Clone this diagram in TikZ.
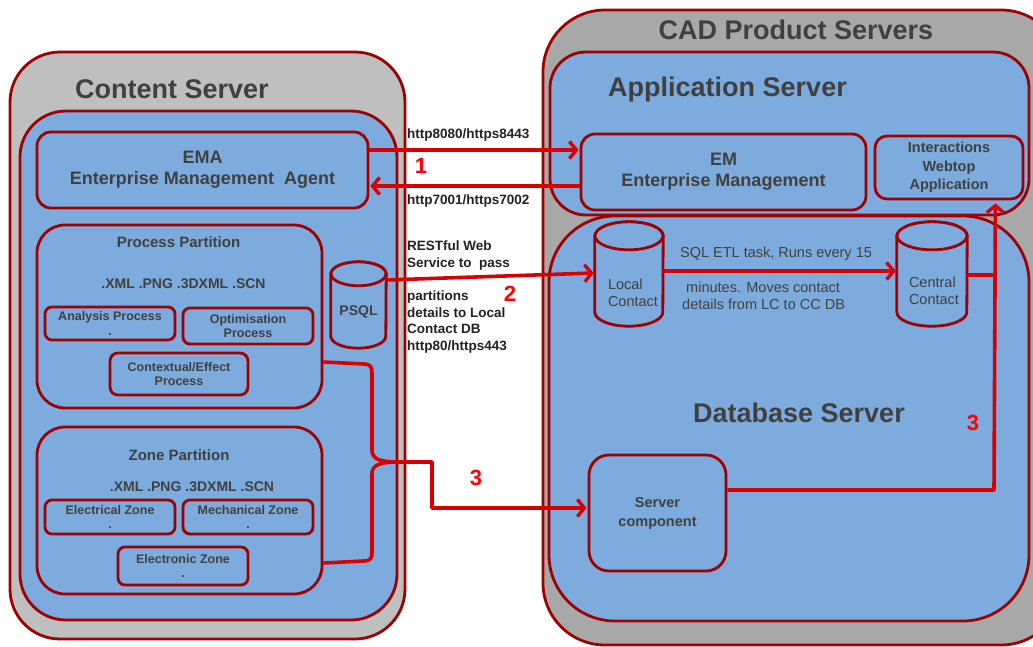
\documentclass[tikz,border=0pt]{standalone}
\usepackage{fontspec}
\setmainfont{Liberation Sans}
\usetikzlibrary{arrows.meta,calc}
\definecolor{bfill}{RGB}{126,171,222}
\definecolor{gfillL}{RGB}{191,191,191}
\definecolor{gfillR}{RGB}{168,168,168}
\definecolor{bord}{RGB}{158,0,0}
\definecolor{arrc}{RGB}{214,0,0}
\definecolor{txt}{RGB}{64,64,64}
\definecolor{txtd}{RGB}{34,34,34}
\definecolor{numc}{RGB}{255,0,0}
\begin{document}
\begin{tikzpicture}[x=1pt,y=-1pt,
  outer/.style={draw=bord, line width=2.8pt, fill=gfillL, inner sep=0pt},
  region/.style={draw=bord, line width=2.8pt, fill=bfill, inner sep=0pt},
  box/.style={draw=bord, line width=2.8pt, fill=bfill, inner sep=0pt, align=center, text=txt},
  cyl/.style={draw=bord, line width=2.8pt, fill=bfill},
  ttl/.style={text=txt, font=\bfseries\fontsize{27}{32}\selectfont, inner sep=0pt},
  bigt/.style={font=\bfseries\fontsize{18}{21}\selectfont},
  midt/.style={text=txt, font=\bfseries\fontsize{15}{18}\selectfont, inner sep=0pt},
  smallt/.style={font=\bfseries\fontsize{12.5}{14.5}\selectfont},
  colt/.style={text=txtd, font=\bfseries\fontsize{13.5}{16.5}\selectfont, inner sep=0pt, anchor=west, align=left},
  numt/.style={text=numc, font=\bfseries\fontsize{22}{24}\selectfont, inner sep=0pt},
  conn/.style={draw=arrc, line width=3.6pt, line join=round},
  arrowc/.style={conn, -{Straight Barb[length=7pt,width=17pt,line width=3.4pt]}}
]
\clip (0,0) rectangle (1033,646);
\fill[white] (0,0) rectangle (1033,646);

% ---------------- Content Server ----------------
\node[outer, minimum width=395pt, minimum height=587pt, rounded corners=50pt] (cs) at (207.5,345.5) {};
\node[region, minimum width=377pt, minimum height=509pt, rounded corners=46pt] (csin) at (208.5,365.5) {};
\node[ttl] (cst) at (172,89) {Content Server};

\node[box, bigt, minimum width=331pt, minimum height=76pt, rounded corners=14pt] (ema) at (202.5,170)
  {EMA\\Enterprise Management\ \ Agent};

\node[region, minimum width=285pt, minimum height=183pt, rounded corners=28pt] (pp) at (179.5,316.5) {};
\node[midt] (ppt) at (178.5,242) {Process Partition};
\node[midt, font=\bfseries\fontsize{14}{16}\selectfont] (ppx) at (183.5,284) {.XML .PNG .3DXML .SCN};
\node[box, smallt, minimum width=130pt, minimum height=33pt, rounded corners=7pt] (ap) at (110,323.5) {Analysis Process\\.};
\node[box, smallt, minimum width=130pt, minimum height=36pt, rounded corners=7pt] (op) at (248,326) {Optimisation\\Process};
\node[box, smallt, minimum width=138pt, minimum height=42pt, rounded corners=8pt] (ce) at (179,374) {Contextual/Effect\\Process};

\node[region, minimum width=285pt, minimum height=167pt, rounded corners=28pt] (zp) at (179.5,510.5) {};
\node[midt] (zpt) at (179,455) {Zone Partition};
\node[midt, font=\bfseries\fontsize{14}{16}\selectfont] (zpx) at (192,487) {.XML .PNG .3DXML .SCN};
\node[box, smallt, minimum width=130pt, minimum height=34pt, rounded corners=7pt] (ez) at (110,517) {Electrical Zone\\.};
\node[box, smallt, minimum width=130pt, minimum height=34pt, rounded corners=7pt] (mz) at (248,517) {Mechanical Zone\\.};
\node[box, smallt, minimum width=130pt, minimum height=38pt, rounded corners=7pt] (enz) at (183,566) {Electronic Zone\\.};

% PSQL cylinder
\node[minimum width=55pt, minimum height=86pt, inner sep=0pt] (psql) at (358.5,305) {};
\path[cyl] ($(psql.north west)+(0,12)$) -- ($(psql.south west)+(0,-12)$)
   arc[start angle=180, end angle=0, x radius=27.5, y radius=12]
   -- ($(psql.north east)+(0,12)$)
   arc[start angle=0, end angle=-180, x radius=27.5, y radius=12] -- cycle;
\path[cyl] ($(psql.north)+(0,12)$) ellipse[x radius=27.5, y radius=12];
\node[text=txt, font=\bfseries\fontsize{14}{16}\selectfont, inner sep=0pt] at (358.5,312) {PSQL};

% ---------------- CAD Product Servers ----------------
\node[outer, fill=gfillR, minimum width=520pt, minimum height=635pt, rounded corners=62pt] (cad) at (803,327.5) {};
\node[ttl] (cadt) at (796,30) {CAD Product Servers};

\node[region, minimum width=479pt, minimum height=163pt, rounded corners=36pt] (app) at (789.5,133.5) {};
\node[ttl] (appt) at (727.5,90) {Application Server};
\node[box, bigt, minimum width=285pt, minimum height=76pt, rounded corners=14pt] (em) at (723.5,172)
  {EM\\Enterprise Management};
\node[box, font=\bfseries\fontsize{14.5}{18.5}\selectfont, minimum width=148pt, minimum height=63pt, rounded corners=12pt] (iwa) at (949,167.5)
  {Interactions\\Webtop\\Application};

\node[region, minimum width=480pt, minimum height=405pt, rounded corners=66pt] (db) at (789,418.5) {};
\node[ttl] (dbt) at (799,413) {Database Server};

% Local Contact cylinder
\node[minimum width=68pt, minimum height=104pt, inner sep=0pt] (lc) at (629,274) {};
\path[cyl] ($(lc.north west)+(0,14)$) -- ($(lc.south west)+(0,-14)$)
   arc[start angle=180, end angle=0, x radius=34, y radius=14]
   -- ($(lc.north east)+(0,14)$)
   arc[start angle=0, end angle=-180, x radius=34, y radius=14] -- cycle;
\path[cyl] ($(lc.north)+(0,14)$) ellipse[x radius=34, y radius=14];
\node[text=txt, font=\fontsize{14.5}{16.5}\selectfont, inner sep=0pt, align=left] at (633,293) {Local\\Contact};

% Central Contact cylinder
\node[minimum width=70pt, minimum height=104pt, inner sep=0pt] (cc) at (932,274) {};
\path[cyl] ($(cc.north west)+(0,14)$) -- ($(cc.south west)+(0,-14)$)
   arc[start angle=180, end angle=0, x radius=35, y radius=14]
   -- ($(cc.north east)+(0,14)$)
   arc[start angle=0, end angle=-180, x radius=35, y radius=14] -- cycle;
\path[cyl] ($(cc.north)+(0,14)$) ellipse[x radius=35, y radius=14];
\node[text=txt, font=\fontsize{14.5}{16.5}\selectfont, inner sep=0pt, align=left] at (934,291) {Central\\Contact};

\node[box, font=\bfseries\fontsize{14.5}{19}\selectfont, minimum width=137pt, minimum height=116pt, rounded corners=20pt] (sc) at (657.5,513)
  {Server\\component};

% ---------------- labels ----------------
\node[colt] (l1a) at (407,135) {http8080/https8443};
\node[colt] (l1b) at (407,201) {http7001/https7002};
\node[colt] (l2a) at (407,255.5) {RESTful Web\\Service to\ \ pass};
\node[colt] (l2b) at (407,322) {partitions\\details to Local\\Contact DB\\http80/https443};
\node[text=txt, font=\fontsize{14.5}{17}\selectfont, inner sep=0pt] (etl1) at (776,254) {SQL ETL task, Runs every 15};
\node[text=txt, font=\fontsize{14.5}{17}\selectfont, inner sep=0pt, anchor=west, align=left] (etl2) at (682,295.5)
  {\ minutes. Moves contact\\details from LC to CC DB};

\node[numt] (n1) at (421,166) {1};
\node[numt] (n2) at (510,294) {2};
\node[numt] (n3a) at (476,478) {3};
\node[numt] (n3b) at (973,423) {3};

% ---------------- connectors ----------------
\draw[arrowc] ($(ema.east)+(0,-20)$) -- ($(em.west)+(-1,-22)$);
\draw[arrowc] ($(em.west)+(0,14)$) -- ($(ema.east)+(1,16)$);
\draw[arrowc] (psql.east |- 0,280) -- ($(lc.west)+(-1,-1)$);
\draw[arrowc] ($(lc.east)+(0,-3)$) -- ($(cc.west)+(-1,-3)$);

\coordinate (brace) at (394,462);
\draw[conn] ($(pp.east)+(0,45.5)$) -- (364,364) .. controls (371,364.5) and (372,367) .. (372,374)
   -- (372,450) .. controls (372,458) and (378,461.5) .. (brace);
\draw[conn] ($(zp.east)+(0,52.5)$) -- (364,561) .. controls (371,560.5) and (372,558) .. (372,552)
   -- (372,474) .. controls (372,466) and (378,462.5) .. (brace);
\draw[arrowc] (brace) -- (432,462) -- (432,508) -- ($(sc.west)+(-1,-5)$);

\coordinate (jx) at (994,490);
\draw[arrowc] ($(sc.east)+(0,-23)$) -- (jx) -- ($(iwa.south east)+(-29,3)$);
\draw[conn] ($(cc.east)+(0,1)$) -- (jx |- 0,275);
\end{tikzpicture}
\end{document}
